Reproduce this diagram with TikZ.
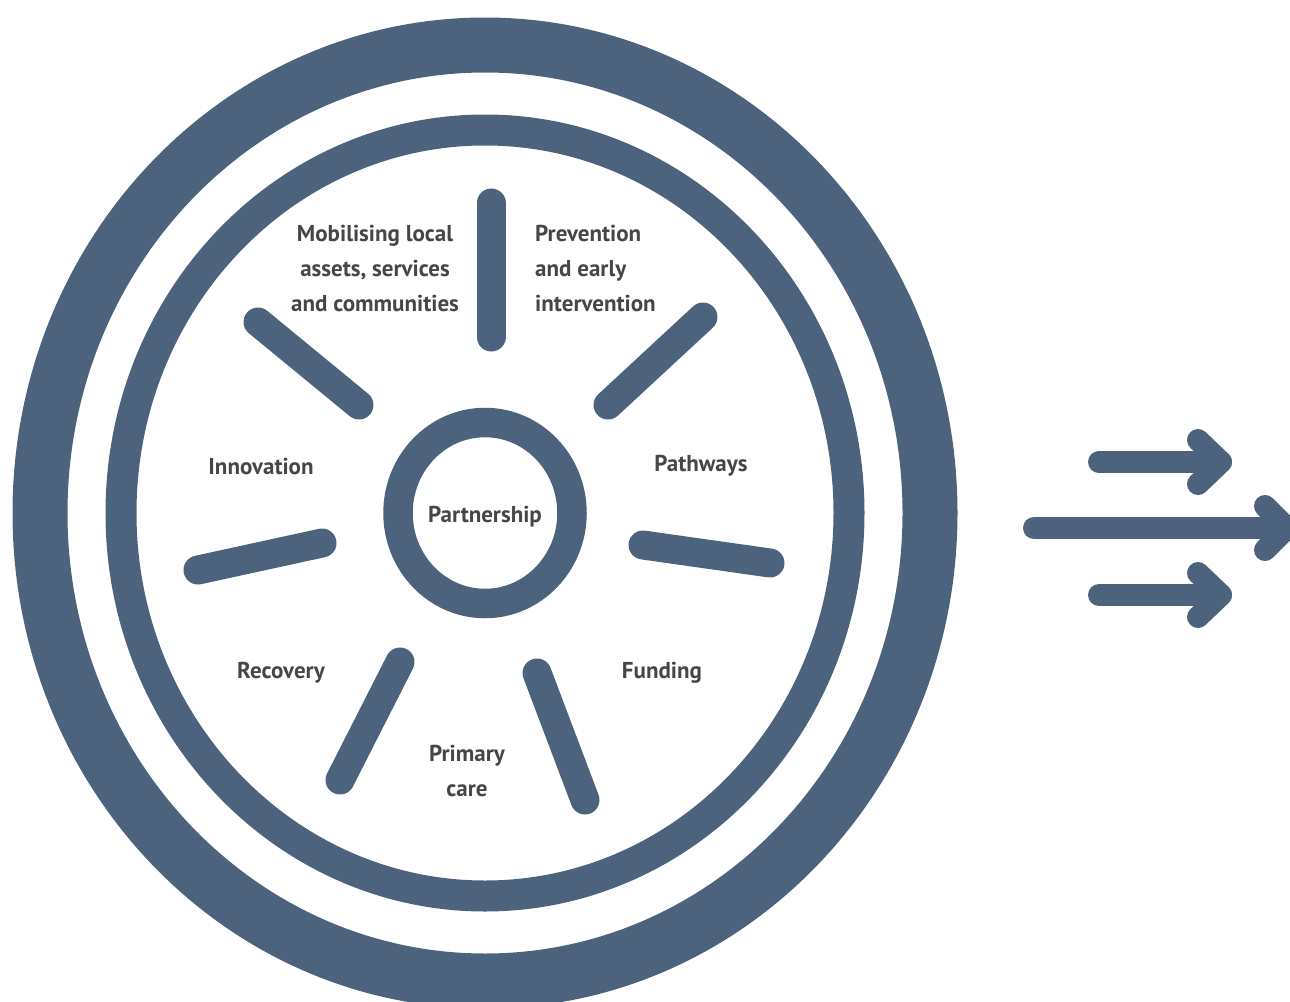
\documentclass[tikz,border=0pt]{standalone}
\usepackage{fontspec}
\setmainfont{PT Sans}
\begin{document}
\begin{tikzpicture}[x=1pt,y=-1pt,
  ring/.style={draw=wheel},
  spoke/.style={draw=wheel,line width=29pt,line cap=round},
  arr/.style={draw=wheel,line width=22pt,line cap=round,line join=round},
  lbl/.style={text=labelgray,font=\bfseries\fontsize{23}{35}\selectfont,inner sep=0pt}]
\definecolor{wheel}{HTML}{4D637D}
\definecolor{labelgray}{HTML}{464646}
\useasboundingbox (0,0) rectangle (1290,1001);
\clip (0,0) rectangle (1290,1001);
\coordinate (c) at (485,513);
% rings
\draw[ring,line width=55pt] (c) ellipse [x radius=445, y radius=468];
\draw[ring,line width=31pt] (c) ellipse [x radius=364, y radius=383];
\draw[ring,line width=29.5pt] (c) ellipse [x radius=87, y radius=90.5];
% spokes
\coordinate (s1a) at (491,203); \coordinate (s1b) at (491,337);
\coordinate (s2a) at (258,322); \coordinate (s2b) at (359,405);
\coordinate (s3a) at (608,405); \coordinate (s3b) at (703,317);
\coordinate (s4a) at (198,570); \coordinate (s4b) at (322,543);
\coordinate (s5a) at (643,545); \coordinate (s5b) at (770,563);
\coordinate (s6a) at (400,662); \coordinate (s6b) at (340,780);
\coordinate (s7a) at (537,673); \coordinate (s7b) at (585,800);
\foreach \s in {1,...,7} {\draw[spoke] (s\s a) -- (s\s b);}
% labels
\node[lbl,align=center] (mob) at (375,268) {Mobilising local\\assets, services\\and communities};
\node[lbl,align=left,anchor=west] (prev) at (535,268) {Prevention\\and early\\intervention};
\node[lbl] (inno) at (261,466) {Innovation};
\node[lbl] (path) at (701,466) {Pathways};
\node[lbl] (part) at (485,517) {Partnership};
\node[lbl] (rec) at (281,673) {Recovery};
\node[lbl] (fund) at (662,673) {Funding};
\node[lbl,align=center] (prim) at (467,771) {Primary\\care};
% arrows
\coordinate (a1s) at (1099,462); \coordinate (a1t) at (1221,462);
\coordinate (a1u) at (1198,440); \coordinate (a1l) at (1198,484);
\coordinate (a2s) at (1034,528); \coordinate (a2t) at (1287,528);
\coordinate (a2u) at (1265,506); \coordinate (a2l) at (1265,550);
\coordinate (a3s) at (1099,595); \coordinate (a3t) at (1221,595);
\coordinate (a3u) at (1198,573); \coordinate (a3l) at (1198,617);
\foreach \a in {1,2,3} {
  \draw[arr] (a\a s) -- (a\a t);
  \draw[arr] (a\a u) -- (a\a t) -- (a\a l);
}
\end{tikzpicture}
\end{document}
